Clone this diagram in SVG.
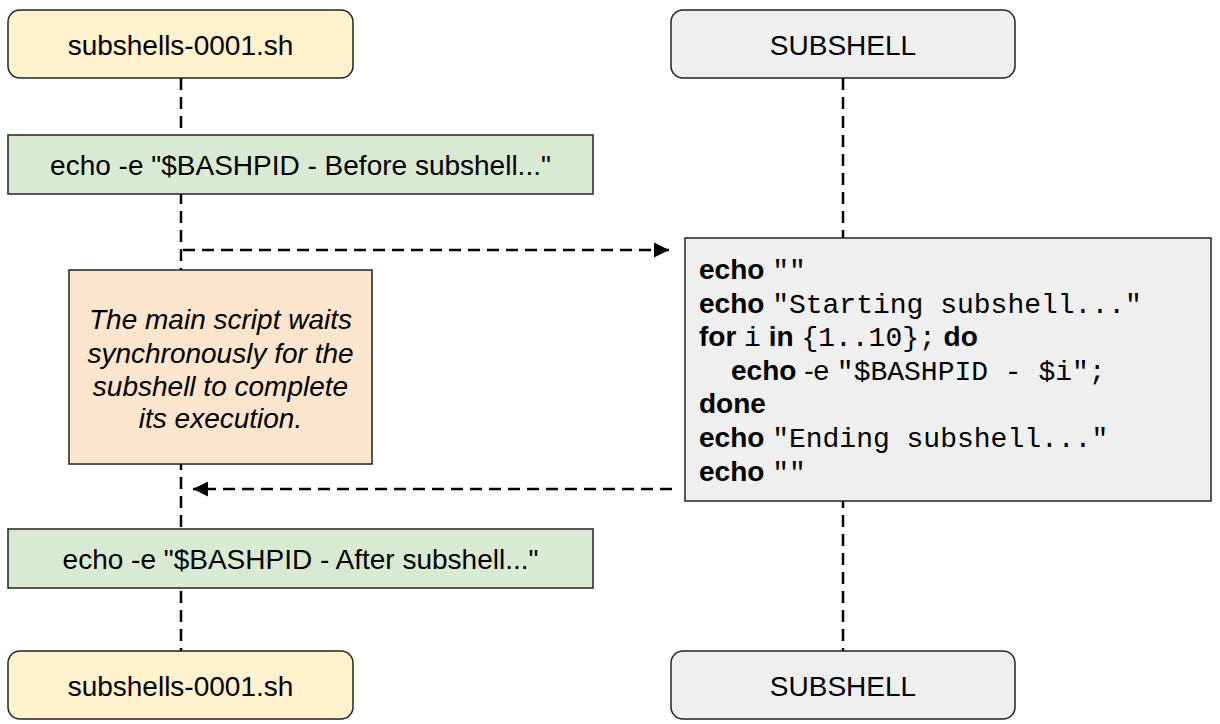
<svg xmlns="http://www.w3.org/2000/svg" width="1220" height="724" viewBox="0 0 1220 724">
<style>
  .box{stroke:#222;stroke-width:1.5}
  .t{font-family:"Liberation Sans",Arial,sans-serif;font-size:28px;fill:#000;text-anchor:middle}
  .it{font-family:"Liberation Sans",Arial,sans-serif;font-size:28px;font-style:italic;fill:#000;text-anchor:middle}
  .code{font-family:"Liberation Sans",Arial,sans-serif;font-size:28px;fill:#000}
  .b{font-weight:bold}
  .m{font-family:"Liberation Mono","Courier New",monospace}
  .life{stroke:#000;stroke-width:2.5;stroke-dasharray:12 7;fill:none}
</style>
<defs>
  <marker id="ah" viewBox="0 0 10 10" refX="10" refY="5" markerWidth="8" markerHeight="6" markerUnits="strokeWidth" orient="auto">
    <path d="M0,0 L10,5 L0,10 z" fill="#000"/>
  </marker>
</defs>
<rect width="1220" height="724" fill="#fff"/>
<g id="connectors">
  <line class="life" x1="181" y1="78" x2="181" y2="651"/>
  <line class="life" x1="843" y1="78" x2="843" y2="651"/>
  <line class="life" x1="183" y1="250" x2="669" y2="250" marker-end="url(#ah)"/>
  <line class="life" x1="672" y1="489" x2="193" y2="489" marker-end="url(#ah)"/>
</g>
<g id="main-top">
  <rect class="box" x="8" y="10" width="345" height="68" rx="12" fill="#fff2cc"/>
  <text class="t" x="180.5" y="55">subshells-0001.sh</text>
</g>
<g id="sub-top">
  <rect class="box" x="671" y="10" width="344" height="68" rx="12" fill="#efefef"/>
  <text class="t" x="843" y="55">SUBSHELL</text>
</g>
<g id="echo-before">
  <rect class="box" x="8" y="135" width="585" height="59" fill="#d9ead3"/>
  <text class="t" x="300.5" y="175">echo -e "$BASHPID - Before subshell..."</text>
</g>
<g id="note">
  <rect class="box" x="69" y="270" width="303" height="194" fill="#fce5cd"/>
  <text class="it" x="220.5" y="329">The main script waits</text>
  <text class="it" x="220.5" y="363">synchronously for the</text>
  <text class="it" x="220.5" y="396">subshell to complete</text>
  <text class="it" x="220.5" y="428">its execution.</text>
</g>
<g id="subshell-code">
  <rect class="box" x="685" y="238" width="526" height="263" fill="#efefef"/>
  <text class="code" x="699" y="279"><tspan class="b">echo</tspan> <tspan class="m">""</tspan></text>
  <text class="code" x="699" y="313"><tspan class="b">echo</tspan> <tspan class="m">"Starting subshell..."</tspan></text>
  <text class="code" x="699" y="346"><tspan class="b">for</tspan> <tspan class="m">i</tspan> <tspan class="b">in</tspan> <tspan class="m">{1..10};</tspan> <tspan class="b">do</tspan></text>
  <text class="code" x="731" y="380"><tspan class="b">echo</tspan> -e <tspan class="m">"$BASHPID - $i";</tspan></text>
  <text class="code" x="699" y="413"><tspan class="b">done</tspan></text>
  <text class="code" x="699" y="447"><tspan class="b">echo</tspan> <tspan class="m">"Ending subshell..."</tspan></text>
  <text class="code" x="699" y="481"><tspan class="b">echo</tspan> <tspan class="m">""</tspan></text>
</g>
<g id="echo-after">
  <rect class="box" x="8" y="529" width="585" height="59" fill="#d9ead3"/>
  <text class="t" x="300.5" y="569">echo -e "$BASHPID - After subshell..."</text>
</g>
<g id="main-bottom">
  <rect class="box" x="8" y="651" width="345" height="68" rx="12" fill="#fff2cc"/>
  <text class="t" x="180.5" y="696">subshells-0001.sh</text>
</g>
<g id="sub-bottom">
  <rect class="box" x="671" y="651" width="344" height="68" rx="12" fill="#efefef"/>
  <text class="t" x="843" y="696">SUBSHELL</text>
</g>
</svg>
